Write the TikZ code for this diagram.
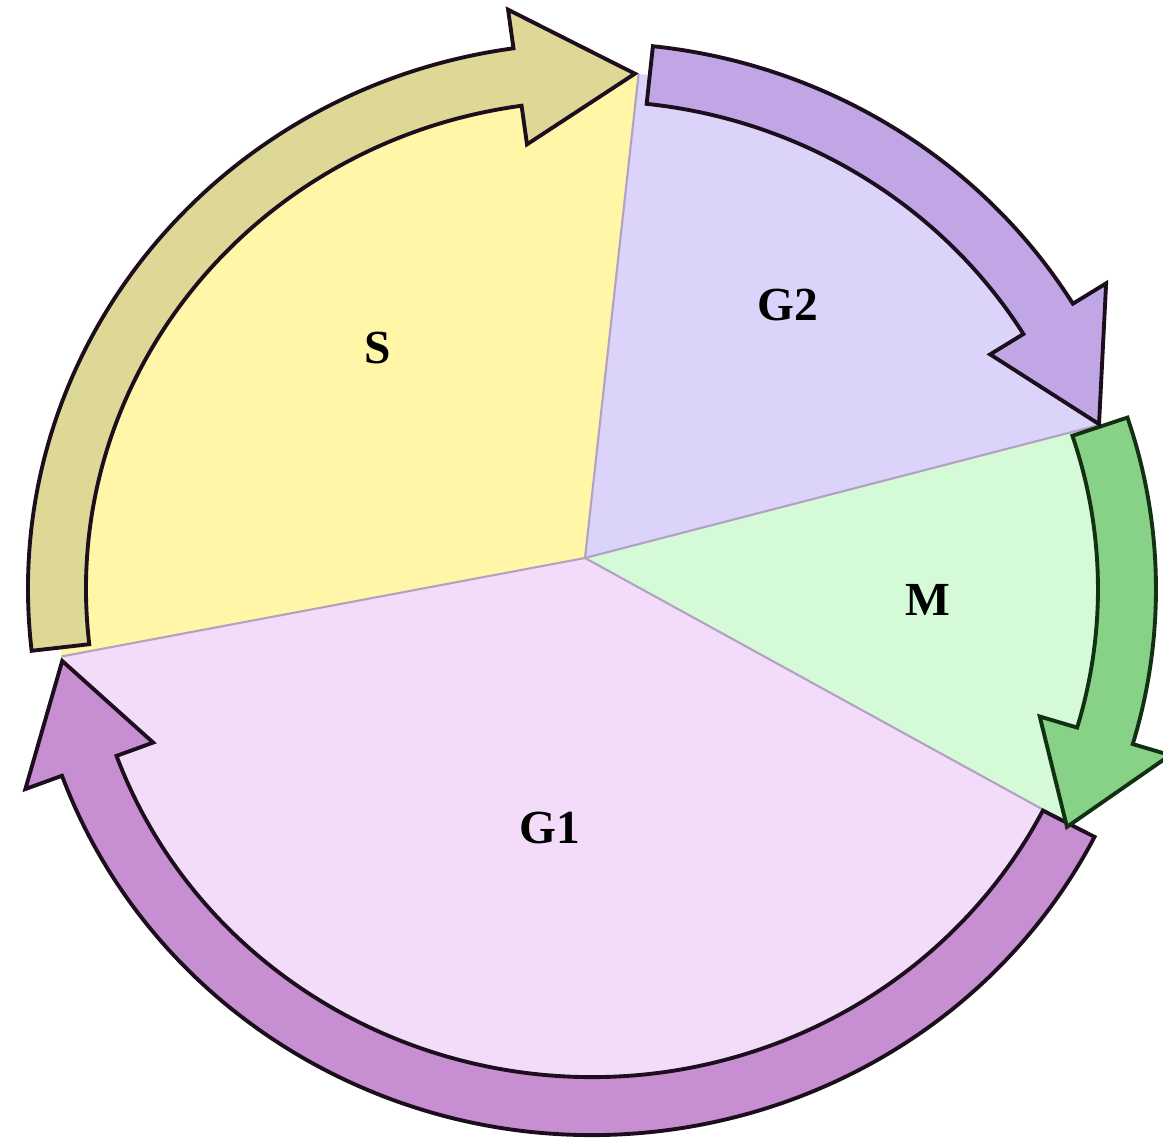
\documentclass[tikz,border=0pt]{standalone}
\usepackage{fontspec}
\setmainfont{Liberation Serif}
\usetikzlibrary{calc}
\definecolor{phaseS}{RGB}{255,246,168}
\definecolor{phaseGtwo}{RGB}{220,211,250}
\definecolor{phaseM}{RGB}{212,250,216}
\definecolor{phaseGone}{RGB}{242,220,250}
\definecolor{arrowS}{RGB}{222,216,150}
\definecolor{arrowGtwo}{RGB}{193,166,230}
\definecolor{arrowM}{RGB}{136,210,136}
\definecolor{arrowGone}{RGB}{200,142,210}
\definecolor{inkDark}{RGB}{28,14,28}
\definecolor{inkGreen}{RGB}{18,48,18}
\definecolor{sliceLine}{RGB}{178,162,192}
% #1 fill, #2 outline, #3 tail angle, #4 head base angle, #5 tip angle
\newcommand{\CycleArrow}[5]{%
  \filldraw[fill=#1,draw=#2,line width=1.1pt,line join=miter]
    ($(C)+(#3:5.64 and 5.46)$) arc[start angle=#3,end angle=#4,x radius=5.64,y radius=5.46]
    -- ($(C)+(#4:6.03 and 5.85)$) -- ($(C)+(#5:5.35 and 5.17)$)
    -- ($(C)+(#4:4.67 and 4.49)$) -- ($(C)+(#4:5.06 and 4.88)$)
    arc[start angle=#4,end angle=#3,x radius=5.06,y radius=4.88] -- cycle;}

\begin{document}
\begin{tikzpicture}[line cap=butt,
  phaseLabel/.style={font=\bfseries\fontsize{13.5}{15}\selectfont,inner sep=0pt}]
  \useasboundingbox (0,0) rectangle (11.63,11.43);
  \coordinate (C) at (5.92,5.54);
  \coordinate (P) at (5.85,5.85);
  % slices of the cycle
  \fill[phaseS] (P) -- ($(C)+(187.5:5.35 and 5.17)$)
    arc[start angle=187.5,end angle=85,x radius=5.35,y radius=5.17] -- cycle;
  \fill[phaseGtwo] (P) -- ($(C)+(85:5.35 and 5.17)$)
    arc[start angle=85,end angle=18.5,x radius=5.35,y radius=5.17] -- cycle;
  \fill[phaseM] (P) -- ($(C)+(18.5:5.35 and 5.17)$)
    arc[start angle=18.5,end angle=-27,x radius=5.35,y radius=5.17] -- cycle;
  \fill[phaseGone] (P) -- ($(C)+(-27:5.35 and 5.17)$)
    arc[start angle=-27,end angle=-172.5,x radius=5.35,y radius=5.17] -- cycle;
  \foreach \t in {85,18.5,-27,187.5}
    \draw[sliceLine,line width=0.6pt] (P) -- ($(C)+(\t:5.35 and 5.17)$);
  % arrows round the cycle
  \CycleArrow{arrowS}{inkDark}{186.5}{98}{85.4}
  \CycleArrow{arrowGone}{inkDark}{-27}{-160}{-172}
  \CycleArrow{arrowM}{inkGreen}{18.3}{-16.5}{-27.4}
  \CycleArrow{arrowGtwo}{inkDark}{83.8}{31.5}{18.6}
  % labels
  \node[phaseLabel] (S) at (3.78,7.95) {S};
  \node[phaseLabel] (G2) at (7.88,8.38) {G2};
  \node[phaseLabel] (M) at (9.28,5.43) {M};
  \node[phaseLabel] (G1) at (5.50,3.15) {G1};
\end{tikzpicture}
\end{document}
